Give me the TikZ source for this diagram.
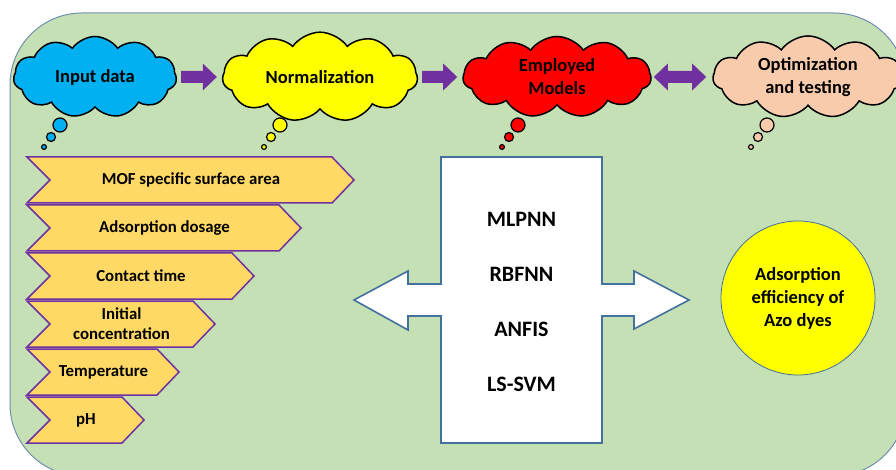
\documentclass[tikz,border=0pt]{standalone}
\usepackage{fontspec}
\setmainfont{Carlito}
\usetikzlibrary{shapes.symbols,arrows.meta}
\definecolor{bgfill}{HTML}{C5E0B4}
\definecolor{bgline}{HTML}{6F8FAF}
\definecolor{cblue}{HTML}{00B0F0}
\definecolor{cyell}{HTML}{FFFF00}
\definecolor{cred}{HTML}{FF0000}
\definecolor{cpeach}{HTML}{F8CBAD}
\definecolor{purp}{HTML}{7030A0}
\definecolor{chevfill}{HTML}{FFD966}
\definecolor{boxline}{HTML}{41719C}
\newcommand{\mkchev}[4]{%
  \draw[chev] (27,#2) -- (#3,#2) -- ({#3+22},{#2+23}) -- (#3,{#2+46}) -- (27,{#2+46}) -- (50,{#2+23}) -- cycle;
  \node[chevtext] (#1) at ({(50+#3)/2},{#2+23}) {#4};}
\begin{document}
\begin{tikzpicture}[x=1pt,y=-1pt,
  cloudbox/.style={cloud, cloud puffs=11, cloud puff arc=110, aspect=2.2, draw=black, line width=1.5pt, minimum height=81pt, inner sep=0pt, align=center, font=\fontsize{18.5}{23}\selectfont\bfseries},
  bubble/.style={draw=black, line width=1.2pt},
  tipA/.style={},
  flowarrow/.style={draw=purp, line width=12pt, -{Triangle[length=14pt,width=26pt]}, shorten <=4pt, shorten >=5pt},
  dflowarrow/.style={draw=purp, line width=12pt, {Triangle[length=14pt,width=26pt]}-{Triangle[length=14pt,width=26pt]}, shorten <=2pt, shorten >=6pt},
  chev/.style={draw=purp, fill=chevfill, line width=1.5pt, line join=miter},
  chevtext/.style={font=\fontsize{16.8}{20}\selectfont\bfseries, align=center},
  modeltext/.style={font=\fontsize{22}{26}\selectfont\bfseries},
  bigarrow/.style={draw=boxline, fill=white, line width=1.6pt, line join=miter}
]
\useasboundingbox (0,0) rectangle (896,470);
\clip (0,0) rectangle (896,470);
% background panel
\draw[fill=bgfill, draw=bgline, line width=1pt, rounded corners=72pt] (10,13) rectangle (906,476);

% clouds
\node[cloudbox, fill=cblue, minimum width=163pt] (in) at (95,77) {Input data};
\node[cloudbox, fill=cyell, minimum width=195pt] (norm) at (320,77) {Normalization};
\node[cloudbox, fill=cred, minimum width=188pt] (emp) at (557,77) {Employed\\Models};
\node[cloudbox, fill=cpeach, minimum width=190pt] (opt) at (808,77) {Optimization\\and testing};

% thought bubbles
\foreach \cx/\col in {60/cblue, 280/cyell, 518/cred, 767/cpeach}{
  \draw[bubble, fill=\col] (\cx,125) circle (7);
  \draw[bubble, fill=\col] ({\cx-9},137) circle (4.5);
  \draw[bubble, fill=\col] ({\cx-16},147) circle (2.4);
}

% flow arrows
\draw[flowarrow] (in.east) -- (norm.west);
\draw[flowarrow] (norm.east) -- (emp.west);
\draw[dflowarrow] (emp.east) -- (opt.west);

% input chevrons
\mkchev{mof}{157}{332}{MOF specific surface area}
\mkchev{dos}{205}{279}{Adsorption dosage}
\mkchev{ct}{253}{232}{Contact time}
\mkchev{ic}{301}{193}{Initial\\concentration}
\mkchev{temp}{349}{157}{Temperature}
\mkchev{ph}{397}{122}{pH}

% models box with double arrow
\draw[bigarrow] (441,157) -- (602,157) -- (602,284) -- (634,284) -- (634,271) -- (689,300)
  -- (634,329) -- (634,316) -- (602,316) -- (602,443) -- (441,443) -- (441,316)
  -- (408,316) -- (408,330) -- (354,300) -- (408,271) -- (408,284) -- (441,284) -- cycle;
\node[modeltext] (m1) at (521.5,219) {MLPNN};
\node[modeltext] (m2) at (521.5,274) {RBFNN};
\node[modeltext] (m3) at (521.5,329) {ANFIS};
\node[modeltext] (m4) at (521.5,384) {LS-SVM};

% output circle
\node[circle, draw=boxline, fill=cyell, line width=0.8pt, minimum size=154pt, inner sep=0pt, align=center, font=\fontsize{18.5}{23}\selectfont\bfseries] (eff) at (798,298) {Adsorption\\efficiency of\\Azo dyes};
\end{tikzpicture}
\end{document}
